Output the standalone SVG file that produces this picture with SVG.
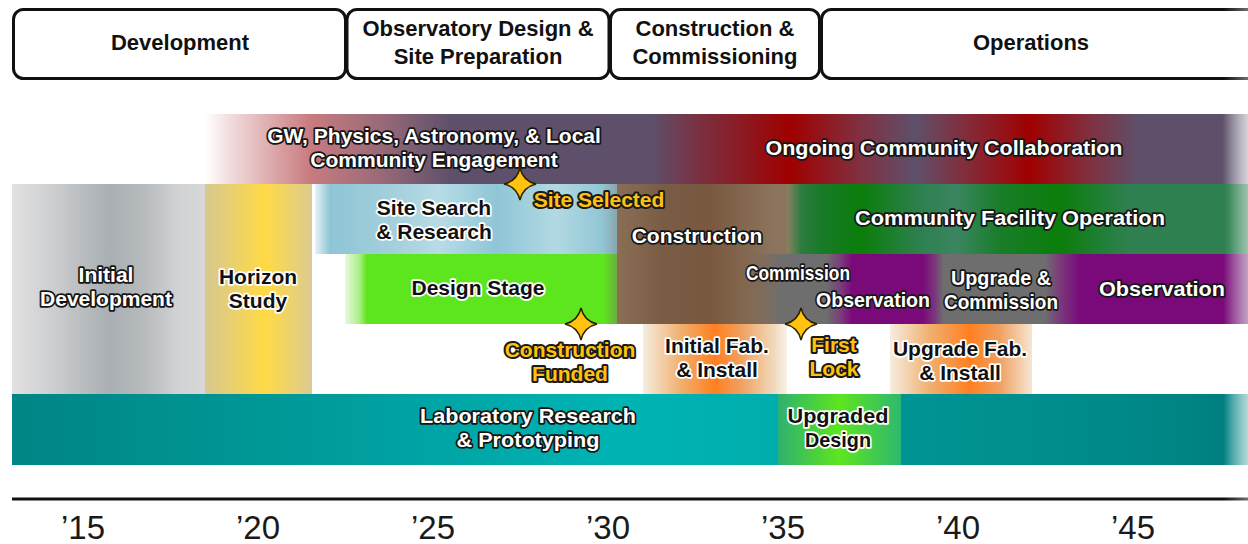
<svg xmlns="http://www.w3.org/2000/svg" width="1248" height="544" viewBox="0 0 1248 544">
<defs>
<style>
.hdr{fill:#fff;stroke:#111;stroke-width:3}
.ht{font-family:"Liberation Sans",Arial,sans-serif;font-weight:700;font-size:22px;fill:#111;text-anchor:middle}
.t{font-family:"Liberation Sans",Arial,sans-serif;font-weight:700;font-size:21px;text-anchor:middle;paint-order:stroke;stroke-linejoin:round}
.w{fill:#fff;stroke:#151515;stroke-width:3.5}
.k{fill:#111;stroke:#fff;stroke-width:3.5}
.y{fill:#ffc20e;stroke:#1a1a1a;stroke-width:4}
.yr{font-family:"Liberation Sans",Arial,sans-serif;font-size:33px;fill:#1a1a1a;text-anchor:middle}
.star{fill:#ffc20e;stroke:#2a2000;stroke-width:1.5}
</style>
<linearGradient id="gEng" gradientUnits="userSpaceOnUse" x1="205" y1="0" x2="1248" y2="0">
<stop offset="0" stop-color="#ffffff"/>
<stop offset="0.024" stop-color="#f2dcdd"/>
<stop offset="0.1" stop-color="#c97c80"/>
<stop offset="0.168" stop-color="#9a6a78"/>
<stop offset="0.235" stop-color="#5e506b"/>
<stop offset="0.427" stop-color="#5e506b"/>
<stop offset="0.475" stop-color="#7a3040"/>
<stop offset="0.561" stop-color="#a00000"/>
<stop offset="0.628" stop-color="#803040"/>
<stop offset="0.681" stop-color="#5e506b"/>
<stop offset="0.724" stop-color="#803040"/>
<stop offset="0.791" stop-color="#a00000"/>
<stop offset="0.848" stop-color="#803040"/>
<stop offset="0.896" stop-color="#5e506b"/>
<stop offset="0.975" stop-color="#5e506b"/>
<stop offset="1" stop-color="#b8b4c0"/>
</linearGradient>
<linearGradient id="gInit" gradientUnits="userSpaceOnUse" x1="12" y1="0" x2="205" y2="0">
<stop offset="0" stop-color="#e2e2e2"/>
<stop offset="0.25" stop-color="#c8cacc"/>
<stop offset="0.5" stop-color="#a9afb3"/>
<stop offset="0.68" stop-color="#b6babc"/>
<stop offset="0.85" stop-color="#cfd1d3"/>
<stop offset="1" stop-color="#d8d8d8"/>
</linearGradient>
<linearGradient id="gHor" gradientUnits="userSpaceOnUse" x1="205" y1="0" x2="312" y2="0">
<stop offset="0" stop-color="#d6c890"/>
<stop offset="0.56" stop-color="#ffda45"/>
<stop offset="1" stop-color="#dccb90"/>
</linearGradient>
<linearGradient id="gSite" gradientUnits="userSpaceOnUse" x1="315" y1="0" x2="617" y2="0">
<stop offset="0" stop-color="#e8f3f6"/>
<stop offset="0.05" stop-color="#8ec5d5"/>
<stop offset="0.28" stop-color="#a6d1dd"/>
<stop offset="0.41" stop-color="#b8dce6"/>
<stop offset="0.6" stop-color="#8fc6d6"/>
<stop offset="0.8" stop-color="#b2d9e3"/>
<stop offset="0.95" stop-color="#92c6d4"/>
<stop offset="1" stop-color="#88a6ae"/>
</linearGradient>
<linearGradient id="gCons" gradientUnits="userSpaceOnUse" x1="617" y1="0" x2="800" y2="0">
<stop offset="0" stop-color="#8a6e55"/>
<stop offset="0.25" stop-color="#7a5c45"/>
<stop offset="0.5" stop-color="#78583f"/>
<stop offset="0.85" stop-color="#8c735c"/>
<stop offset="1" stop-color="#8a7860"/>
</linearGradient>
<linearGradient id="gCFO" gradientUnits="userSpaceOnUse" x1="787" y1="0" x2="1248" y2="0">
<stop offset="0" stop-color="#8a8060"/>
<stop offset="0.03" stop-color="#2e7d40"/>
<stop offset="0.07" stop-color="#1a7a2a"/>
<stop offset="0.16" stop-color="#0a7d0a"/>
<stop offset="0.29" stop-color="#2e8050"/>
<stop offset="0.37" stop-color="#3a8560"/>
<stop offset="0.46" stop-color="#1a7d2a"/>
<stop offset="0.59" stop-color="#0a7d0a"/>
<stop offset="0.74" stop-color="#2e8050"/>
<stop offset="0.96" stop-color="#2e8050"/>
<stop offset="1" stop-color="#5a9c78"/>
</linearGradient>
<linearGradient id="gDes" gradientUnits="userSpaceOnUse" x1="345" y1="0" x2="617" y2="0">
<stop offset="0" stop-color="#eaf9e2"/>
<stop offset="0.055" stop-color="#a8ee80"/>
<stop offset="0.08" stop-color="#5de61e"/>
<stop offset="0.95" stop-color="#5de61e"/>
<stop offset="1" stop-color="#6aae40"/>
</linearGradient>
<linearGradient id="gObs" gradientUnits="userSpaceOnUse" x1="740" y1="0" x2="1248" y2="0">
<stop offset="0" stop-color="#80654e" stop-opacity="0"/>
<stop offset="0.08" stop-color="#6e6e6e"/>
<stop offset="0.17" stop-color="#6e6e6e"/>
<stop offset="0.2" stop-color="#7a3a7a"/>
<stop offset="0.22" stop-color="#7a0a7a"/>
<stop offset="0.36" stop-color="#7a0a7a"/>
<stop offset="0.385" stop-color="#7a3a7a"/>
<stop offset="0.4" stop-color="#6e6e6e"/>
<stop offset="0.6" stop-color="#6e6e6e"/>
<stop offset="0.63" stop-color="#7a3a7a"/>
<stop offset="0.67" stop-color="#7a0a7a"/>
<stop offset="0.95" stop-color="#7a0a7a"/>
<stop offset="1" stop-color="#98609a"/>
</linearGradient>
<linearGradient id="gFab1" gradientUnits="userSpaceOnUse" x1="643" y1="0" x2="787" y2="0">
<stop offset="0" stop-color="#f6ede0"/>
<stop offset="0.26" stop-color="#f0b070"/>
<stop offset="0.5" stop-color="#ff7f20"/>
<stop offset="0.68" stop-color="#f0a060"/>
<stop offset="0.92" stop-color="#f0dcc0"/>
<stop offset="1" stop-color="#f8f2ea"/>
</linearGradient>
<linearGradient id="gFab2" gradientUnits="userSpaceOnUse" x1="890" y1="0" x2="1032" y2="0">
<stop offset="0" stop-color="#f6ede0"/>
<stop offset="0.28" stop-color="#f0b070"/>
<stop offset="0.56" stop-color="#ff7f20"/>
<stop offset="0.77" stop-color="#f0a060"/>
<stop offset="1" stop-color="#f5e6d2"/>
</linearGradient>
<linearGradient id="gLab" gradientUnits="userSpaceOnUse" x1="12" y1="0" x2="1248" y2="0">
<stop offset="0" stop-color="#008585"/>
<stop offset="0.23" stop-color="#009999"/>
<stop offset="0.49" stop-color="#00b4b4"/>
<stop offset="0.62" stop-color="#00adad"/>
<stop offset="0.72" stop-color="#009494"/>
<stop offset="0.89" stop-color="#008a8a"/>
<stop offset="0.98" stop-color="#008080"/>
<stop offset="1" stop-color="#80c0c0"/>
</linearGradient>
<linearGradient id="gUpD" gradientUnits="userSpaceOnUse" x1="778" y1="0" x2="901" y2="0">
<stop offset="0" stop-color="#2eb070"/>
<stop offset="0.5" stop-color="#5de61e"/>
<stop offset="1" stop-color="#2eb870"/>
</linearGradient>
<linearGradient id="gFade" gradientUnits="userSpaceOnUse" x1="1224" y1="0" x2="1248" y2="0">
<stop offset="0" stop-color="#fff" stop-opacity="0"/>
<stop offset="1" stop-color="#fff" stop-opacity="0.4"/>
</linearGradient>
<path id="starShape" d="M0,-16 Q3,-3 16,0 Q3,3 0,16 Q-3,3 -16,0 Q-3,-3 0,-16Z"/>
</defs>
<rect width="1248" height="544" fill="#fff"/>

<g id="phases">
<g id="ph-development"><rect class="hdr" x="13.5" y="9.5" width="332" height="69" rx="10"/><text class="ht" x="180" y="50">Development</text></g>
<g id="ph-design"><rect class="hdr" x="347" y="9.5" width="262" height="69" rx="10"/><text class="ht" x="478" y="36">Observatory Design &amp;<tspan x="478" dy="28">Site Preparation</tspan></text></g>
<g id="ph-construction"><rect class="hdr" x="610.5" y="9.5" width="209" height="69" rx="10"/><text class="ht" x="715" y="36">Construction &amp;<tspan x="715" dy="28">Commissioning</tspan></text></g>
<g id="ph-operations"><rect class="hdr" x="821.5" y="9.5" width="440" height="69" rx="10"/><text class="ht" x="1031" y="50">Operations</text></g>
</g>

<g id="bands">
<g id="engagement"><rect x="205" y="114" width="1043" height="70" fill="url(#gEng)"/></g>
<g id="initial-dev"><rect x="12" y="184" width="193" height="210" fill="url(#gInit)"/></g>
<g id="horizon"><rect x="205" y="184" width="107" height="210" fill="url(#gHor)"/></g>
<g id="site-search"><rect x="315" y="184" width="302" height="70" fill="url(#gSite)"/></g>
<g id="construction"><rect x="617" y="184" width="175" height="140" fill="url(#gCons)"/></g>
<g id="cfo"><rect x="787" y="184" width="461" height="70" fill="url(#gCFO)"/></g>
<g id="design"><rect x="345" y="254" width="272" height="70" fill="url(#gDes)"/></g>
<g id="observation"><rect x="740" y="254" width="508" height="70" fill="url(#gObs)"/></g>
<g id="fab1"><rect x="643" y="324" width="144" height="70" fill="url(#gFab1)"/></g>
<g id="fab2"><rect x="890" y="324" width="142" height="70" fill="url(#gFab2)"/></g>
<g id="lab"><rect x="12" y="394" width="1236" height="71" fill="url(#gLab)"/></g>
<g id="upgraded-design"><rect x="778" y="394" width="123" height="71" fill="url(#gUpD)"/></g>
</g>

<g id="axis">
<line x1="12" y1="499" x2="1248" y2="499" stroke="#111" stroke-width="3"/>
<text class="yr" x="83" y="539">’15</text>
<text class="yr" x="258" y="539">’20</text>
<text class="yr" x="433" y="539">’25</text>
<text class="yr" x="608" y="539">’30</text>
<text class="yr" x="783" y="539">’35</text>
<text class="yr" x="958" y="539">’40</text>
<text class="yr" x="1133" y="539">’45</text>
</g>

<rect x="1224" y="0" width="24" height="544" fill="url(#gFade)"/>

<g id="labels">
<text class="t w" x="434" y="143">GW, Physics, Astronomy, &amp; Local<tspan x="434" dy="24">Community Engagement</tspan></text>
<text class="t w" x="944" y="155" textLength="357" lengthAdjust="spacingAndGlyphs">Ongoing Community Collaboration</text>
<text class="t w" x="106" y="282">Initial<tspan x="106" dy="24">Development</tspan></text>
<text class="t k" x="258" y="284">Horizon<tspan x="258" dy="24">Study</tspan></text>
<text class="t k" x="434" y="215">Site Search<tspan x="434" dy="24">&amp; Research</tspan></text>
<text class="t w" x="697" y="243">Construction</text>
<text class="t w" x="1010" y="225" textLength="310" lengthAdjust="spacingAndGlyphs">Community Facility Operation</text>
<text class="t k" x="478" y="295">Design Stage</text>
<text class="t w" x="798" y="280" textLength="104" lengthAdjust="spacingAndGlyphs">Commission</text>
<text class="t w" x="873" y="307" textLength="114" lengthAdjust="spacingAndGlyphs">Observation</text>
<text class="t w" x="1001" y="285"><tspan x="1001" textLength="100" lengthAdjust="spacingAndGlyphs">Upgrade &amp;</tspan><tspan x="1001" dy="24" textLength="114" lengthAdjust="spacingAndGlyphs">Commission</tspan></text>
<text class="t w" x="1162" y="296" textLength="126" lengthAdjust="spacingAndGlyphs">Observation</text>
<text class="t k" x="717" y="353">Initial Fab.<tspan x="717" dy="24">&amp; Install</tspan></text>
<text class="t k" x="960" y="356">Upgrade Fab.<tspan x="960" dy="24">&amp; Install</tspan></text>
<text class="t w" x="528" y="423"><tspan x="528" textLength="216" lengthAdjust="spacingAndGlyphs">Laboratory Research</tspan><tspan x="528" dy="24" textLength="143" lengthAdjust="spacingAndGlyphs">&amp; Prototyping</tspan></text>
<text class="t k" x="838" y="423"><tspan x="838" textLength="101" lengthAdjust="spacingAndGlyphs">Upgraded</tspan><tspan x="838" dy="24" textLength="66" lengthAdjust="spacingAndGlyphs">Design</tspan></text>
</g>

<g id="milestones">
<g id="ms-site"><use href="#starShape" class="star" x="520" y="184"/><text class="t y" x="599" y="207">Site Selected</text></g>
<g id="ms-funded"><use href="#starShape" class="star" x="581" y="324"/><text class="t y" x="570" y="357">Construction<tspan x="570" dy="24">Funded</tspan></text></g>
<g id="ms-lock"><use href="#starShape" class="star" x="801" y="324"/><text class="t y" x="834" y="352">First<tspan x="834" dy="24">Lock</tspan></text></g>
</g>
</svg>
